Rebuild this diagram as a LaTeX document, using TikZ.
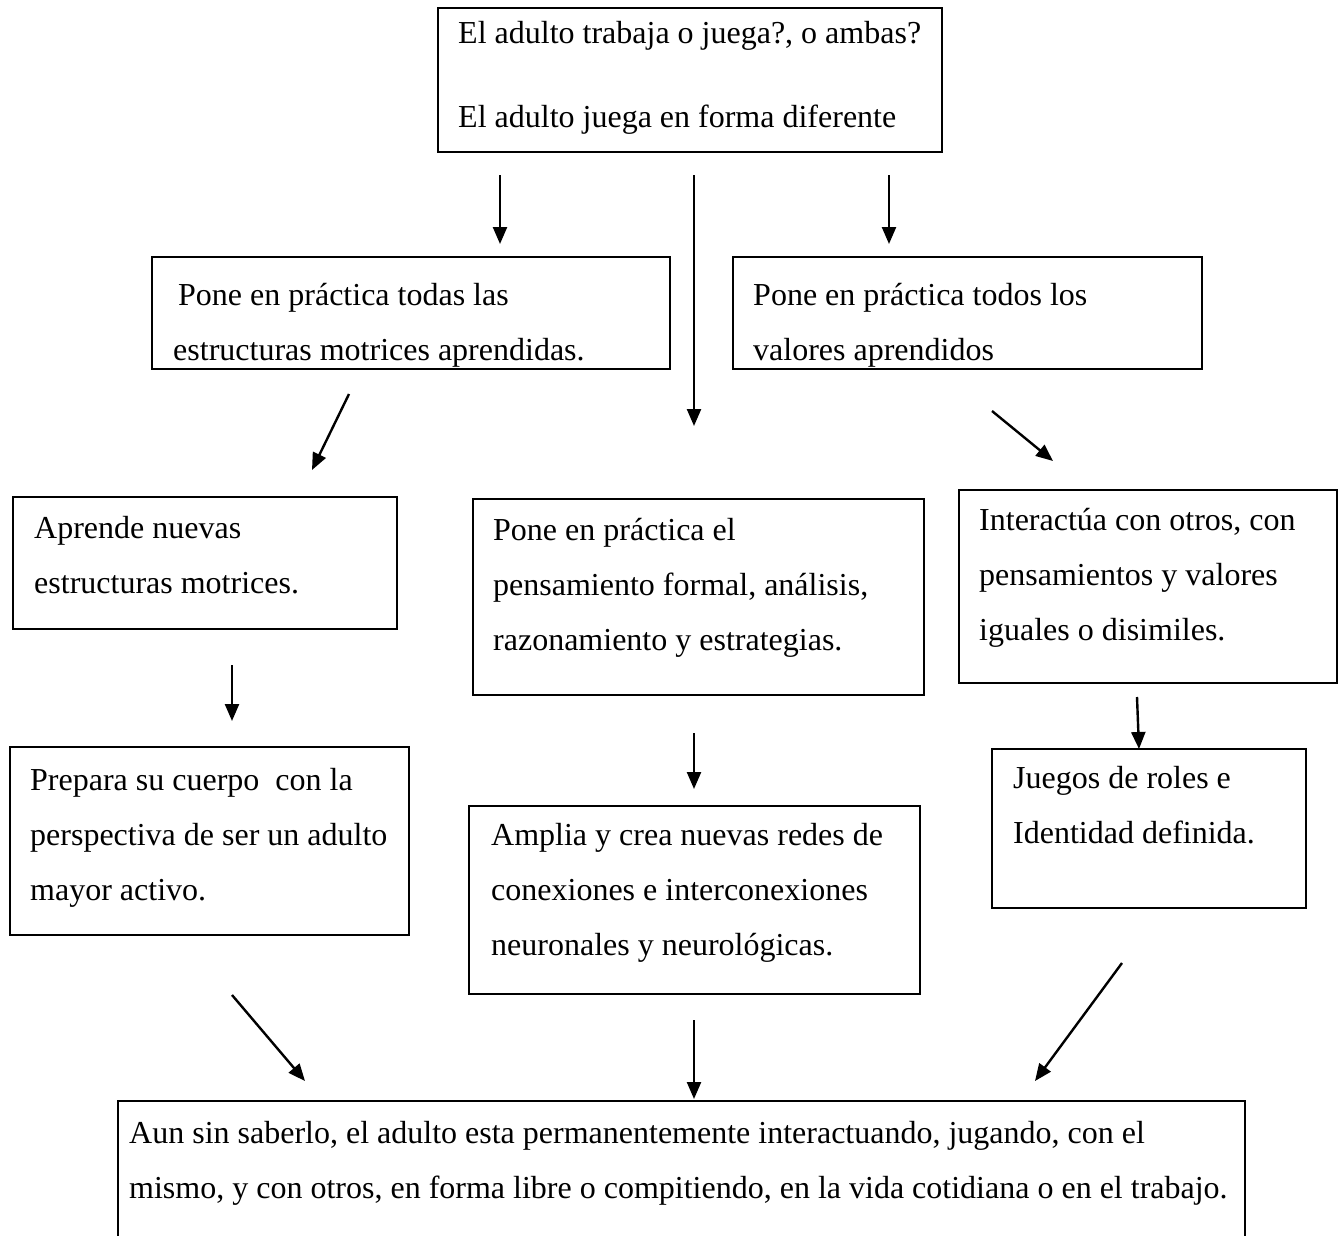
\documentclass[tikz,border=0pt]{standalone}
\usepackage{fontspec}
\setmainfont{Liberation Serif}
\usetikzlibrary{arrows.meta,fit}
\begin{document}
\begin{tikzpicture}[x=1pt,y=-1pt,
  box/.style={draw=black,line width=2.2pt,inner sep=0pt,rectangle},
  txt/.style={anchor=base west,inner sep=0pt,font=\fontsize{32}{38}\selectfont},
  arr/.style={line width=2.4pt,-{Triangle[length=17pt,width=14pt]}}]
\clip (0,0) rectangle (1338,1236);
\fill[white] (0,0) rectangle (1338,1236);
% boxes
\node[box,fit={(438,8) (942,152)}] (b1) {};
\node[box,fit={(152,257) (670,369)}] (b2) {};
\node[box,fit={(733,257) (1202,369)}] (b3) {};
\node[box,fit={(13,497) (397,629)}] (b4) {};
\node[box,fit={(473,499) (924,695)}] (b5) {};
\node[box,fit={(959,490) (1337,683)}] (b6) {};
\node[box,fit={(10,747) (409,935)}] (b7) {};
\node[box,fit={(469,806) (920,994)}] (b8) {};
\node[box,fit={(992,749) (1306,908)}] (b9) {};
\node[box,fit={(118,1101) (1245,1270)}] (b10) {};
% texts
\node[txt] (t1a) at (458,44) {El adulto trabaja o juega?, o ambas?};
\node[txt] (t1b) at (458,128) {El adulto juega en forma diferente};
\node[txt] (t2a) at (178,305) {Pone en práctica todas las};
\node[txt] (t2b) at (173,360) {estructuras motrices aprendidas.};
\node[txt] (t3a) at (753,305) {Pone en práctica todos los};
\node[txt] (t3b) at (753,360) {valores aprendidos};
\node[txt] (t4a) at (34,538) {Aprende nuevas};
\node[txt] (t4b) at (34,593) {estructuras motrices.};
\node[txt] (t5a) at (493,540) {Pone en práctica el};
\node[txt] (t5b) at (493,595) {pensamiento formal, análisis,};
\node[txt] (t5c) at (493,650) {razonamiento y estrategias.};
\node[txt] (t6a) at (979,530) {Interactúa con otros, con};
\node[txt] (t6b) at (979,585) {pensamientos y valores};
\node[txt] (t6c) at (979,640) {iguales o disimiles.};
\node[txt] (t7a) at (30,790) {Prepara su cuerpo\ \ con la};
\node[txt] (t7b) at (30,845) {perspectiva de ser un adulto};
\node[txt] (t7c) at (30,900) {mayor activo.};
\node[txt] (t8a) at (491,845) {Amplia y crea nuevas redes de};
\node[txt] (t8b) at (491,900) {conexiones e interconexiones};
\node[txt] (t8c) at (491,955) {neuronales y neurológicas.};
\node[txt] (t9a) at (1013,788) {Juegos de roles e};
\node[txt] (t9b) at (1013,843) {Identidad definida.};
\node[txt] (t10a) at (129,1143) {Aun sin saberlo, el adulto esta permanentemente interactuando, jugando, con el};
\node[txt] (t10b) at (129,1198) {mismo, y con otros, en forma libre o compitiendo, en la vida cotidiana o en el trabajo.};
% arrow end points
\coordinate (a1s) at (500,175); \coordinate (a1e) at (500,244);
\coordinate (a2s) at (694,175); \coordinate (a2e) at (694,426);
\coordinate (a3s) at (889,175); \coordinate (a3e) at (889,244);
\coordinate (a4s) at (349,394); \coordinate (a4e) at (312,470);
\coordinate (a5s) at (992,411); \coordinate (a5e) at (1053,461);
\coordinate (a6s) at (232,665); \coordinate (a6e) at (232,721);
\coordinate (a7s) at (694,733); \coordinate (a7e) at (694,789);
\coordinate (a8s) at (1137,697); \coordinate (a8e) at (1139,749);
\coordinate (a9s) at (232,995); \coordinate (a9e) at (305,1081);
\coordinate (a10s) at (694,1020); \coordinate (a10e) at (694,1099);
\coordinate (a11s) at (1122,963); \coordinate (a11e) at (1035,1081);
\foreach \i in {1,...,11} {\draw[arr] (a\i s) -- (a\i e);}
\end{tikzpicture}
\end{document}
